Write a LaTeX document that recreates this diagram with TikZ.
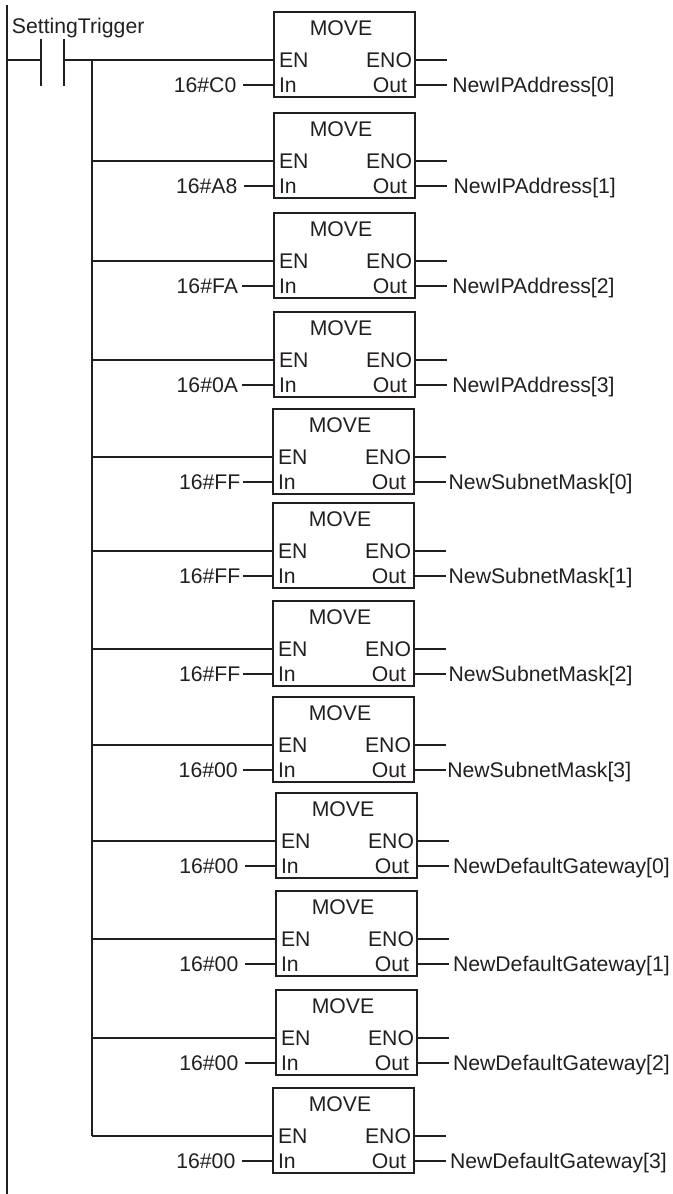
\documentclass[tikz,border=0pt]{standalone}
\usepackage{fontspec}
\setmainfont{Liberation Sans}
\usepackage{tikz}
\definecolor{ink}{HTML}{231F20}
\tikzset{
  blockbox/.style={draw=ink, line width=1.3pt, anchor=north west, inner sep=0pt, outer sep=0pt,
    minimum width=105.75pt, minimum height=64pt},
  pintext/.style={text=ink, inner sep=0pt, outer sep=0pt, text height=11.4pt, text depth=0pt,
    font=\fontsize{15.9}{18}\selectfont},
  wire/.style={ink, line width=1.1pt},
  bus/.style={ink, line width=1.6pt},
  rail/.style={ink, line width=2pt}
}
% name, left, top, value, value stub x, value gap, output label, label gap
\newcommand{\moveblock}[8]{
  \begin{scope}[shift={(#2,#3)}]
    \node[blockbox] (#1) at (0,0) {};
    \node[pintext] (#1title) at (67,16) {MOVE};
    \node[pintext, anchor=west] (#1en) at (5,48) {EN};
    \node[pintext, anchor=west] (#1in) at (5,73) {In};
    \node[pintext, anchor=east] (#1eno) at (138,48) {ENO};
    \node[pintext, anchor=east] (#1out) at (133,73) {Out};
    \coordinate (#1enpin) at (0,48);
    \coordinate (#1inpin) at (0,73);
    \coordinate (#1enopin) at (141,48);
    \coordinate (#1outpin) at (141,73);
    \coordinate (#1enoend) at (173,48);
    \node[pintext, anchor=east, inner xsep=#6] (#1val) at (#5,73) {#4};
    \node[pintext, anchor=west, inner xsep=#8] (#1lbl) at (173,73) {#7};
    \draw[wire] (#1val) -- (#1inpin);
    \draw[wire] (#1enopin) -- (#1enoend);
    \draw[wire] (#1outpin) -- (#1lbl);
  \end{scope}
}

\begin{document}
\begin{tikzpicture}[x=0.75pt, y=-0.75pt]
  \useasboundingbox (0,0) rectangle (672,1194);

  % MOVE blocks, top to bottom
  \moveblock{ip0}{274}{12}{16\#C0}{-31}{5pt}{NewIPAddress[0]}{4pt}
  \moveblock{ip1}{274}{113}{16\#A8}{-30}{5pt}{NewIPAddress[1]}{5pt}
  \moveblock{ip2}{274}{213}{16\#FA}{-32}{3pt}{NewIPAddress[2]}{4pt}
  \moveblock{ip3}{274}{312}{16\#0A}{-32}{3pt}{NewIPAddress[3]}{4pt}
  \moveblock{mask0}{273}{409}{16\#FF}{-30}{2pt}{NewSubnetMask[0]}{2pt}
  \moveblock{mask1}{273}{503}{16\#FF}{-30}{2pt}{NewSubnetMask[1]}{2pt}
  \moveblock{mask2}{273}{601}{16\#FF}{-30}{2pt}{NewSubnetMask[2]}{2pt}
  \moveblock{mask3}{273}{697}{16\#00}{-30}{4pt}{NewSubnetMask[3]}{1pt}
  \moveblock{gw0}{276}{793}{16\#00}{-31}{5pt}{NewDefaultGateway[0]}{3pt}
  \moveblock{gw1}{276}{891}{16\#00}{-31}{5pt}{NewDefaultGateway[1]}{3pt}
  \moveblock{gw2}{276}{990}{16\#00}{-31}{5pt}{NewDefaultGateway[2]}{3pt}
  \moveblock{gw3}{273}{1088}{16\#00}{-31}{5pt}{NewDefaultGateway[3]}{3pt}

  % Left power rail and contact
  \coordinate (railtop) at (7,5);
  \coordinate (railbot) at (7,1194);
  \draw[rail] (railtop) -- (railbot);

  \node[pintext, anchor=west] (trigger) at (12,26) {SettingTrigger};
  \coordinate (contactAtop) at (41,39);
  \coordinate (contactAbot) at (41,86);
  \coordinate (contactBtop) at (64,39);
  \coordinate (contactBbot) at (64,86);
  \draw[wire] (contactAtop) -- (contactAbot);
  \draw[wire] (contactBtop) -- (contactBbot);
  \draw[wire] (railtop |- ip0enpin) -- (contactAtop |- ip0enpin);
  \draw[wire] (contactBtop |- ip0enpin) -- (ip0enpin);

  % Branch line down to every EN input
  \coordinate (bustop) at (92,60);
  \draw[bus] (bustop) -- (bustop |- gw3enpin);
  \foreach \blk in {ip1,ip2,ip3,mask0,mask1,mask2,mask3,gw0,gw1,gw2,gw3}
    \draw[wire] (bustop |- \blk enpin) -- (\blk enpin);
\end{tikzpicture}
\end{document}
